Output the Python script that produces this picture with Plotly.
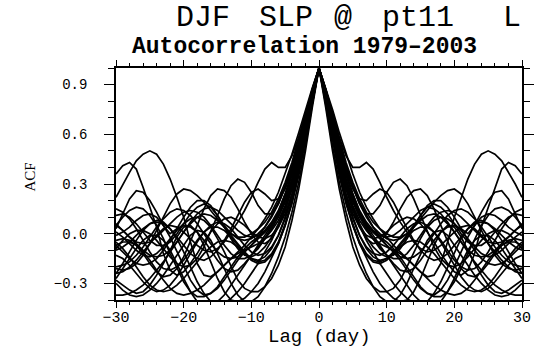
import plotly.graph_objects as go

# Lags 0..30 (ACF is symmetric, negative lags are the mirror image)
lags = list(range(0, 31))

acf_curves = [
    [1.00,0.76,0.50,0.27,0.08,-0.08,-0.19,-0.27,-0.32,-0.35,-0.35,-0.33,-0.28,-0.20,-0.11,-0.03,0.04,0.08,0.10,0.09,0.06,0.02,-0.03,-0.08,-0.12,-0.14,-0.13,-0.10,-0.06,-0.02,0.01],
    [1.00,0.87,0.72,0.58,0.47,0.40,0.40,0.43,0.39,0.31,0.22,0.14,0.07,0.01,-0.05,-0.09,-0.11,-0.10,-0.07,-0.03,0.01,0.04,0.05,0.03,-0.01,-0.06,-0.11,-0.16,-0.20,-0.23,-0.24],
    [1.00,0.84,0.64,0.45,0.29,0.17,0.08,0.02,-0.03,-0.06,-0.08,-0.10,-0.12,-0.15,-0.19,-0.23,-0.26,-0.25,-0.18,-0.05,0.10,0.22,0.33,0.42,0.48,0.50,0.48,0.44,0.37,0.30,0.22],
    [1.00,0.82,0.60,0.40,0.24,0.12,0.04,-0.01,-0.03,-0.02,0.01,0.05,0.08,0.10,0.09,0.06,0.01,-0.05,-0.12,-0.18,-0.23,-0.25,-0.22,-0.12,0.04,0.16,0.28,0.39,0.43,0.41,0.36],
    [1.00,0.85,0.66,0.48,0.33,0.21,0.12,0.05,-0.01,-0.07,-0.13,-0.18,-0.22,-0.23,-0.21,-0.16,-0.10,-0.04,0.01,0.04,0.05,0.03,0.00,0.05,0.13,0.20,0.25,0.26,0.21,0.12,0.03],
    [1.00,0.86,0.70,0.54,0.40,0.28,0.18,0.12,0.12,0.17,0.25,0.31,0.33,0.29,0.21,0.11,0.01,-0.08,-0.15,-0.19,-0.20,-0.18,-0.14,-0.09,-0.04,0.00,0.02,0.02,0.00,-0.04,-0.09],
    [1.00,0.83,0.62,0.43,0.27,0.14,0.04,-0.03,-0.06,-0.05,0.00,0.07,0.15,0.22,0.26,0.27,0.23,0.15,0.05,-0.05,-0.14,-0.21,-0.25,-0.26,-0.23,-0.18,-0.12,-0.07,-0.04,-0.03,-0.04],
    [1.00,0.80,0.58,0.37,0.20,0.06,-0.05,-0.12,-0.16,-0.17,-0.15,-0.11,-0.06,-0.01,0.04,0.09,0.14,0.19,0.23,0.26,0.27,0.24,0.18,0.10,0.02,-0.06,-0.13,-0.18,-0.21,-0.22,-0.21],
    [1.00,0.85,0.68,0.52,0.38,0.27,0.21,0.20,0.24,0.27,0.25,0.19,0.11,0.03,-0.04,-0.10,-0.14,-0.16,-0.15,-0.12,-0.07,-0.02,0.03,0.06,0.07,0.06,0.03,-0.01,-0.05,-0.08,-0.10],
    [1.00,0.83,0.63,0.44,0.28,0.15,0.05,-0.04,-0.11,-0.18,-0.24,-0.30,-0.35,-0.39,-0.42,-0.43,-0.41,-0.36,-0.29,-0.20,-0.11,-0.03,0.03,0.07,0.08,0.06,0.02,-0.04,-0.11,-0.18,-0.24],
    [1.00,0.81,0.58,0.37,0.19,0.05,-0.06,-0.13,-0.17,-0.18,-0.16,-0.12,-0.08,-0.05,-0.04,-0.05,-0.08,-0.12,-0.17,-0.22,-0.27,-0.31,-0.34,-0.35,-0.34,-0.31,-0.26,-0.20,-0.14,-0.09,-0.05],
    [1.00,0.87,0.72,0.57,0.43,0.31,0.21,0.13,0.07,0.03,0.00,-0.02,-0.02,0.00,0.04,0.08,0.11,0.12,0.10,0.06,0.01,-0.05,-0.11,-0.17,-0.22,-0.27,-0.31,-0.34,-0.36,-0.37,-0.37],
    [1.00,0.84,0.65,0.47,0.32,0.20,0.11,0.05,0.01,-0.02,-0.05,-0.09,-0.14,-0.20,-0.26,-0.32,-0.36,-0.38,-0.38,-0.35,-0.29,-0.21,-0.12,-0.03,0.05,0.11,0.15,0.16,0.14,0.10,0.05],
    [1.00,0.86,0.69,0.52,0.37,0.24,0.13,0.04,-0.03,-0.09,-0.13,-0.15,-0.15,-0.12,-0.07,-0.01,0.05,0.10,0.13,0.14,0.13,0.10,0.06,0.02,-0.02,-0.05,-0.06,-0.05,-0.02,0.02,0.06],
    [1.00,0.79,0.56,0.35,0.18,0.05,-0.06,-0.15,-0.23,-0.30,-0.35,-0.39,-0.41,-0.40,-0.35,-0.27,-0.17,-0.07,0.01,0.05,0.04,-0.02,-0.10,-0.18,-0.25,-0.31,-0.35,-0.36,-0.34,-0.31,-0.28],
    [1.00,0.85,0.67,0.50,0.35,0.23,0.13,0.06,0.01,-0.03,-0.07,-0.11,-0.16,-0.22,-0.28,-0.33,-0.36,-0.37,-0.34,-0.28,-0.20,-0.11,-0.02,0.05,0.10,0.12,0.11,0.08,0.04,0.01,-0.01],
    [1.00,0.88,0.75,0.61,0.48,0.36,0.25,0.16,0.09,0.03,-0.02,-0.07,-0.11,-0.15,-0.19,-0.23,-0.27,-0.31,-0.34,-0.36,-0.37,-0.36,-0.33,-0.28,-0.22,-0.16,-0.11,-0.07,-0.05,-0.05,-0.07],
    [1.00,0.82,0.61,0.41,0.24,0.10,-0.01,-0.09,-0.14,-0.16,-0.15,-0.12,-0.07,-0.02,0.02,0.04,0.04,0.01,-0.04,-0.10,-0.16,-0.20,-0.22,-0.21,-0.17,-0.11,-0.04,0.03,0.09,0.13,0.15],
    [1.00,0.84,0.64,0.46,0.31,0.19,0.10,0.03,-0.03,-0.08,-0.13,-0.19,-0.25,-0.31,-0.37,-0.41,-0.44,-0.44,-0.41,-0.35,-0.27,-0.18,-0.10,-0.04,-0.01,-0.01,-0.04,-0.09,-0.15,-0.21,-0.27],
    [1.00,0.78,0.53,0.31,0.13,-0.02,-0.14,-0.24,-0.32,-0.38,-0.41,-0.41,-0.37,-0.30,-0.21,-0.12,-0.04,0.01,0.02,-0.01,-0.07,-0.13,-0.19,-0.25,-0.30,-0.34,-0.37,-0.38,-0.37,-0.34,-0.30],
    [1.00,0.86,0.70,0.54,0.40,0.28,0.18,0.10,0.04,0.00,-0.03,-0.04,-0.03,0.00,0.05,0.11,0.17,0.20,0.20,0.16,0.10,0.03,-0.04,-0.10,-0.15,-0.18,-0.19,-0.18,-0.15,-0.11,-0.07],
    [1.00,0.83,0.63,0.45,0.29,0.16,0.06,-0.02,-0.08,-0.12,-0.14,-0.13,-0.09,-0.03,0.04,0.11,0.16,0.18,0.16,0.12,0.06,0.00,-0.05,-0.07,-0.07,-0.04,0.01,0.06,0.10,0.12,0.11],
    [1.00,0.87,0.71,0.55,0.41,0.29,0.19,0.11,0.04,-0.02,-0.07,-0.11,-0.14,-0.15,-0.14,-0.11,-0.06,0.00,0.06,0.11,0.14,0.15,0.13,0.09,0.04,-0.02,-0.08,-0.13,-0.17,-0.19,-0.20],
    [1.00,0.81,0.59,0.39,0.22,0.09,-0.01,-0.08,-0.12,-0.13,-0.11,-0.07,-0.02,0.03,0.06,0.07,0.05,0.01,-0.05,-0.12,-0.19,-0.26,-0.31,-0.34,-0.35,-0.33,-0.29,-0.24,-0.19,-0.15,-0.13],
    [1.00,0.85,0.68,0.51,0.36,0.24,0.14,0.07,0.02,-0.01,-0.02,-0.01,0.02,0.06,0.10,0.14,0.16,0.15,0.12,0.07,0.01,-0.05,-0.10,-0.13,-0.14,-0.13,-0.10,-0.06,-0.02,0.02,0.05],
]

title_words = ["DJF", "SLP", "@", "pt11", "L"]
subtitle = "Autocorrelation 1979\u20132003"
x_label = "Lag (day)"
y_label = "ACF"
y_tickvals = [-0.3, 0.0, 0.3, 0.6, 0.9]
x_tickvals = [-30, -20, -10, 0, 10, 20, 30]

W, H = 543, 349
L_M, R_M, T_M, B_M = 116, 9, 68, 49
PW, PH = W - L_M - R_M, H - T_M - B_M

def px_x(p):
    return (p - L_M) / PW

def px_y(p):
    return (H - B_M - p) / PH

fig = go.Figure()
full_lags = [-l for l in reversed(lags[1:])] + lags
for c in acf_curves:
    full = list(reversed(c[1:])) + c
    fig.add_trace(go.Scatter(x=full_lags, y=full, mode="lines",
                             line=dict(color="black", width=1.7),
                             showlegend=False, hoverinfo="skip"))

axis_common = dict(showline=True, linecolor="black", linewidth=1.6,
                   mirror="allticks", ticks="outside", tickcolor="black",
                   tickwidth=1.4, showgrid=False, zeroline=False)

fig.update_xaxes(range=[-30, 30], tickvals=x_tickvals, ticklen=6,
                 minor=dict(dtick=2, tick0=0, ticks="outside", ticklen=3,
                            tickcolor="black", tickwidth=1.3),
                 tickfont=dict(family="Liberation Mono", size=15, color="black"),
                 ticklabelstandoff=-4, **axis_common)
fig.update_yaxes(range=[-0.4, 1.0], tickvals=y_tickvals, tickformat=".1f", ticklen=10,
                 minor=dict(dtick=0.1, tick0=0, ticks="outside", ticklen=6,
                            tickcolor="black", tickwidth=1.3),
                 tickfont=dict(family="Liberation Mono", size=14, color="black"),
                 ticklabelstandoff=14, **axis_common)

annotations = []
title_pos = [(206, "center"), (291, "center"), (350, "center"), (427, "center"), (512, "left")]
for w, (xp, anc) in zip(title_words, title_pos):
    annotations.append(dict(text=w, x=px_x(xp), y=px_y(18), xref="paper", yref="paper",
                            xanchor=anc, yanchor="middle", showarrow=False,
                            font=dict(family="Liberation Mono", size=30, color="black")))
annotations.append(dict(text=subtitle, x=px_x(310), y=px_y(47), xref="paper", yref="paper",
                        xanchor="center", yanchor="middle", showarrow=False,
                        font=dict(family="Liberation Mono", size=23, color="black", weight="bold")))
annotations.append(dict(text=x_label, x=px_x(326), y=px_y(337), xref="paper", yref="paper",
                        xanchor="center", yanchor="middle", showarrow=False, borderpad=0,
                        font=dict(family="Liberation Mono", size=19, color="black")))
annotations.append(dict(text=y_label, x=px_x(27), y=px_y(177), xref="paper", yref="paper",
                        xanchor="center", yanchor="middle", showarrow=False, textangle=-90,
                        font=dict(family="Liberation Serif", size=15, color="black")))

fig.update_layout(width=W, height=H, margin=dict(l=L_M, r=R_M, t=T_M, b=B_M),
                  plot_bgcolor="white", paper_bgcolor="white",
                  annotations=annotations)

fig.write_html("out.html")
